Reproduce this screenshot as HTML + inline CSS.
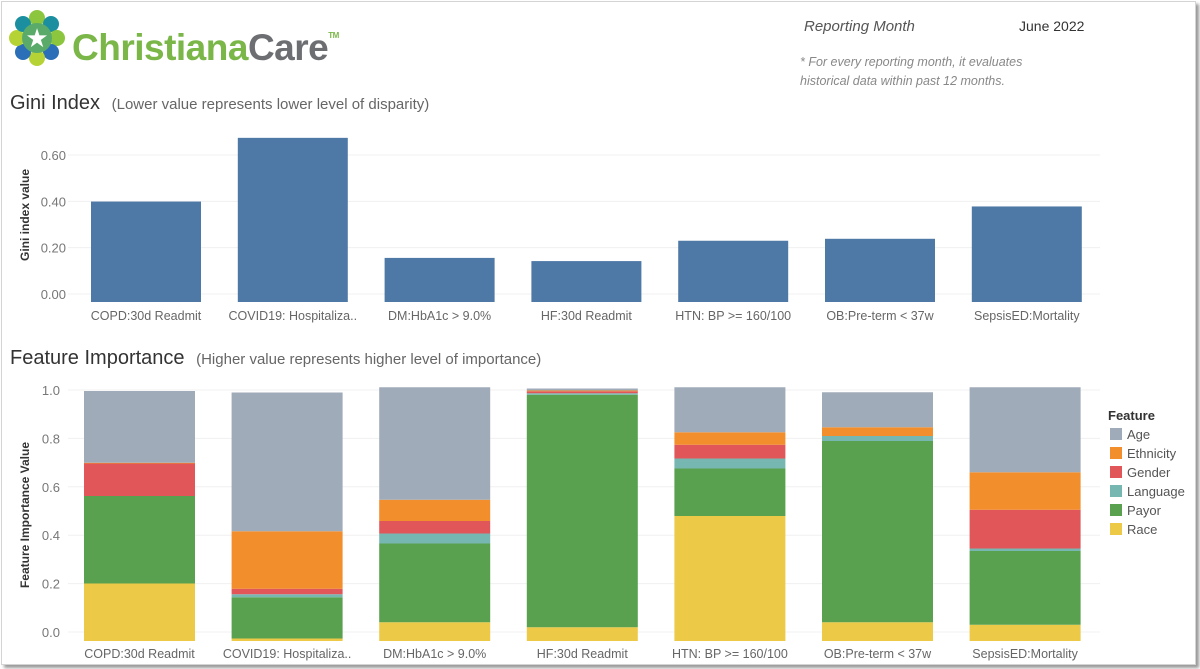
<!DOCTYPE html>
<html><head><meta charset="utf-8"><style>
body{margin:0;background:#fff;width:1200px;height:669px;overflow:hidden;font-family:"Liberation Sans",sans-serif}
#frame{position:absolute;left:1px;top:1px;width:1193px;height:662px;border:1px solid #d4d4d4;box-shadow:3px 3px 3px #999}
</style></head><body>
<div id="frame"></div>
<svg id="svg" width="1200" height="669" style="position:absolute;left:0;top:0">
<g>
  <g transform="translate(37,38)">
    <circle cx="0" cy="-20" r="8" fill="#8cc63f"/><circle cx="14" cy="-14" r="8" fill="#1b8fa0"/>
    <circle cx="20" cy="0" r="8" fill="#8cc63f"/><circle cx="14" cy="14" r="8" fill="#2a6fb7"/>
    <circle cx="0" cy="20" r="8" fill="#b5d334"/><circle cx="-14" cy="14" r="8" fill="#2a6fb7"/>
    <circle cx="-20" cy="0" r="8" fill="#b5d334"/><circle cx="-14" cy="-14" r="8" fill="#1b8fa0"/>
    <circle cx="0" cy="0" r="15" fill="#5aab6a"/>
    <text x="0" y="9" font-size="26" fill="#fff" text-anchor="middle">★</text>
  </g>
  <text x="72" y="60" font-size="37" font-weight="bold" fill="#7ab648" letter-spacing="-0.5">Christiana<tspan fill="#6d6e71">Care</tspan><tspan font-size="8" dy="-22">TM</tspan></text>
</g>
<text x="804" y="31" font-size="15" font-style="italic" fill="#555">Reporting Month</text>
<text x="1019" y="31" font-size="14" fill="#333">June 2022</text>
<text x="800" y="66" font-size="12.5" font-style="italic" fill="#888">* For every reporting month,  it evaluates</text>
<text x="800" y="85" font-size="12.5" font-style="italic" fill="#888">historical data within past 12 months.</text>
<text x="10" y="109" font-size="20" fill="#333">Gini Index <tspan font-size="15" fill="#666" dx="6">(Lower value represents lower level of disparity)</tspan></text>
<text x="10" y="364" font-size="20" fill="#333">Feature Importance <tspan font-size="15" fill="#666" dx="6">(Higher value represents higher level of importance)</tspan></text>
<text transform="translate(29,215) rotate(-90)" font-size="12" font-weight="bold" fill="#333" text-anchor="middle">Gini index value</text>
<text transform="translate(29,515) rotate(-90)" font-size="12" font-weight="bold" fill="#333" text-anchor="middle">Feature Importance Value</text>
<g id="topChart"></g><g id="botChart"></g><g id="legend"></g>
</svg>
<script>
const categories=["COPD:30d Readmit","COVID19: Hospitaliza..","DM:HbA1c > 9.0%","HF:30d Readmit","HTN: BP >= 160/100","OB:Pre-term < 37w","SepsisED:Mortality"];
const giniValues=[0.41,0.67,0.18,0.167,0.25,0.258,0.39];
const giniTicks=["0.00","0.20","0.40","0.60"];
const features=["Age","Ethnicity","Gender","Language","Payor","Race"];
const race=[0.23,0.01,0.075,0.055,0.50,0.075,0.065];
const payor=[0.35,0.165,0.315,0.93,0.19,0.725,0.295];
const language=[0,0.012,0.04,0.006,0.04,0.02,0.01];
const gender=[0.13,0.022,0.05,0.008,0.055,0,0.155];
const ethnicity=[0.003,0.23,0.085,0.003,0.05,0.035,0.15];
const age=[0.287,0.555,0.45,0.008,0.18,0.14,0.34];
const fiTicks=["0.0","0.2","0.4","0.6","0.8","1.0"];
const colors={Age:"#a0abba",Ethnicity:"#f28e2b",Gender:"#e15759",Language:"#76b7b2",Payor:"#59a14f",Race:"#edc948"};
const NS="http://www.w3.org/2000/svg";
function mk(p,t,a){const e=document.createElementNS(NS,t);for(const k in a)e.setAttribute(k,a[k]);p.appendChild(e);return e;}
const yT=v=>302-v*245, xT=i=>146+i*146.8, bwT=110;
const lT=v=>294-v*231.7;
const topGroup=document.getElementById('topChart');
giniTicks.forEach(t=>{const v=parseFloat(t);
 const l=mk(topGroup,'line',{x1:68,x2:1100,y1:lT(v),y2:lT(v),stroke:"#f0f0f0"});
 
 
 const tx=mk(topGroup,'text',{x:66,y:lT(v)+5,"font-size":13,fill:"#777","text-anchor":"end"});tx.textContent=t;
 
 
});
categories.forEach((c,i)=>{
 const r=mk(topGroup,'rect',{x:xT(i)-bwT/2,y:yT(giniValues[i]),width:bwT,height:yT(0)-yT(giniValues[i]),fill:"#4e79a7"});
 
 
 const t=mk(topGroup,'text',{x:xT(i),y:320,"font-size":12.5,fill:"#666","text-anchor":"middle"});t.textContent=c;
 
 
});
const yB=v=>641-v*250, xB=i=>139.5+i*147.6, bwB=111;
const lB=v=>632-v*242;
const botGroup=document.getElementById('botChart');
fiTicks.forEach(t=>{const v=parseFloat(t);
 const l=mk(botGroup,'line',{x1:68,x2:1100,y1:lB(v),y2:lB(v),stroke:"#f0f0f0"});
 
 
 const tx=mk(botGroup,'text',{x:60,y:lB(v)+5,"font-size":13,fill:"#777","text-anchor":"end"});tx.textContent=t;
 
 
});
const stackOrder=[["Race",race],["Payor",payor],["Language",language],["Gender",gender],["Ethnicity",ethnicity],["Age",age]];
categories.forEach((c,i)=>{
 let cum=0;
 stackOrder.forEach(([f,arr])=>{
  const v=arr[i];
  const r=mk(botGroup,'rect',{x:xB(i)-bwB/2,y:yB(cum+v),width:bwB,height:yB(cum)-yB(cum+v),fill:colors[f]});
  
  
  cum+=v;
 });
 const t=mk(botGroup,'text',{x:xB(i),y:658,"font-size":12.5,fill:"#666","text-anchor":"middle"});t.textContent=c;
 
 
});
const lg=document.getElementById('legend');
const lt=mk(lg,'text',{x:1108,y:420,"font-size":13,"font-weight":"bold",fill:"#333"});lt.textContent="Feature";


features.forEach((f,k)=>{
 const y=428+k*19;
 const s=mk(lg,'rect',{x:1110,y:y,width:12,height:12,fill:colors[f]});
 
 
 const t=mk(lg,'text',{x:1127,y:y+11,"font-size":13,fill:"#555"});t.textContent=f;
 
 
});
</script>
</body></html>
